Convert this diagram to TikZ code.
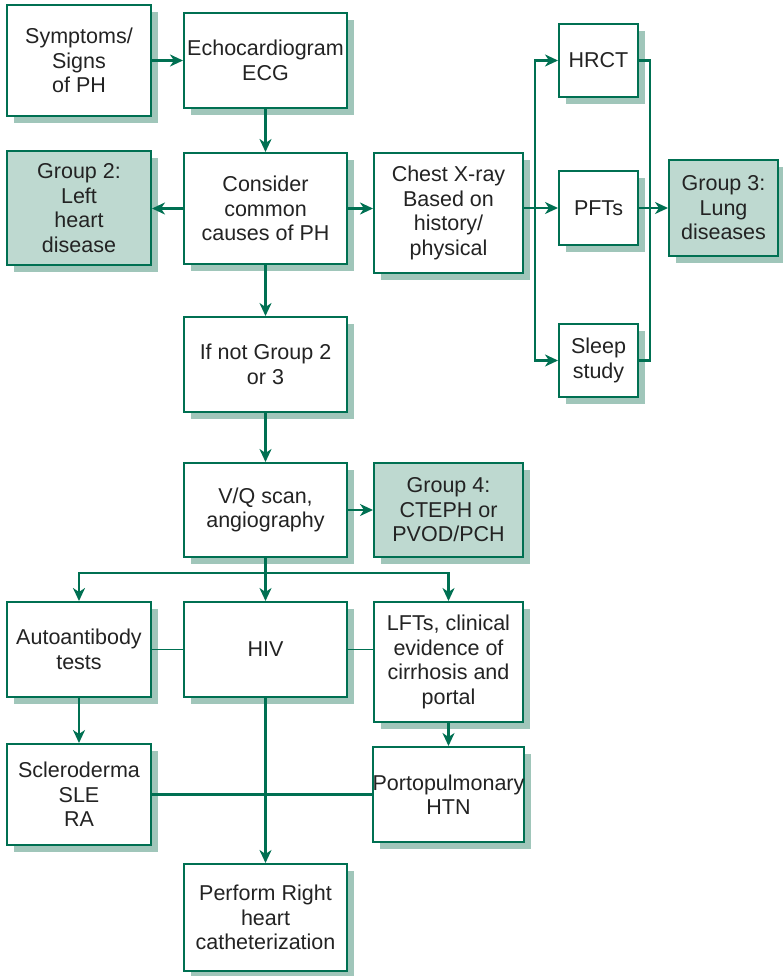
\documentclass[tikz,border=0pt]{standalone}
\usepackage{fontspec}
\setmainfont{Liberation Sans}
\usetikzlibrary{arrows.meta,shadows}
\definecolor{grn}{RGB}{0,112,82}
\definecolor{shc}{RGB}{160,198,186}
\definecolor{gfill}{RGB}{190,217,208}
\definecolor{txt}{RGB}{35,35,35}
\tikzset{
  box/.style={draw=grn, line width=2pt, fill=white, align=center, inner sep=0pt,
    text=txt, font=\fontsize{21.5}{24.5}\selectfont,
    drop shadow={shadow xshift=7pt, shadow yshift=-7pt, fill=shc, opacity=1}},
  grp/.style={box, fill=gfill},
  arr/.style={draw=grn, line width=2.4pt, -{Stealth[length=13pt,width=12pt,inset=4pt]}},
  ln/.style={draw=grn, line width=2.4pt},
  thin/.style={draw=grn, line width=1.3pt}
}
\begin{document}
\begin{tikzpicture}[x=1pt,y=-1pt]
\useasboundingbox (0,0) rectangle (783,976);
\node[box, minimum width=144, minimum height=111] (sym) at (79,60.5) {Symptoms/\\Signs\\of PH};
\node[box, minimum width=163, minimum height=95] (echo) at (265.5,60.5) {Echocardiogram\\ECG};
\node[grp, minimum width=144, minimum height=114] (g2) at (79,208) {Group 2:\\Left\\heart\\disease};
\node[box, minimum width=163, minimum height=111] (cons) at (265.5,208.5) {Consider\\common\\causes of PH};
\node[box, minimum width=149, minimum height=120] (chest) at (448.5,213) {Chest X-ray\\Based on\\history/\\physical};
\node[box, minimum width=79, minimum height=73] (hrct) at (598.5,60.5) {HRCT};
\node[box, minimum width=79, minimum height=74] (pft) at (598.5,208) {PFTs};
\node[box, minimum width=79, minimum height=73] (sleep) at (598.5,360.5) {Sleep\\study};
\node[grp, minimum width=109, minimum height=96] (g3) at (723.5,208) {Group 3:\\Lung\\diseases};
\node[box, minimum width=163, minimum height=95] (ifnot) at (265.5,364.5) {If not Group 2\\or 3};
\node[box, minimum width=163, minimum height=94] (vq) at (265.5,510) {V/Q scan,\\angiography};
\node[grp, minimum width=149, minimum height=94] (g4) at (448.5,510) {Group 4:\\CTEPH or\\PVOD/PCH};
\node[box, minimum width=144, minimum height=95] (auto) at (79,649.5) {Autoantibody\\tests};
\node[box, minimum width=163, minimum height=95] (hiv) at (265.5,649.5) {HIV};
\node[box, minimum width=149, minimum height=120] (lft) at (448.5,662) {LFTs, clinical\\evidence of\\cirrhosis and\\portal};
\node[box, minimum width=144, minimum height=101] (scl) at (79,794.5) {Scleroderma\\SLE\\RA};
\node[box, minimum width=149, minimum height=95] (porto) at (448.5,794.5) {Portopulmonary\\HTN};
\node[box, minimum width=163, minimum height=107] (perf) at (265.5,917.5) {Perform Right\\heart\\catheterization};

\coordinate (bl) at (535,0);
\coordinate (br) at (650,0);
\coordinate (by) at (0,573);

\draw[arr] (sym.east) -- (sym.east -| echo.west);
\draw[arr] (echo.south) -- (cons.north);
\draw[arr] (cons.west) -- (cons.west -| g2.east);
\draw[arr] (cons.east) -- (cons.east -| chest.west);
\draw[arr] (pft.west -| chest.east) -- (pft.west);
\draw[arr] (bl |- pft.west) |- (hrct.west);
\draw[arr] (bl |- pft.west) |- (sleep.west);
\draw[ln] (hrct.east) -| (br |- sleep.east) -- (sleep.east);
\draw[arr] (pft.east) -- (g3.west);
\draw[arr] (cons.south) -- (ifnot.north);
\draw[arr] (ifnot.south) -- (vq.north);
\draw[arr] (vq.east) -- (g4.west);
\draw[arr] (vq.south) -- (hiv.north);
\draw[arr] (by -| hiv.north) -| (auto.north);
\draw[arr] (by -| hiv.north) -| (lft.north);
\draw[thin] (auto.east) -- (hiv.west);
\draw[thin] (hiv.east) -- (hiv.east -| lft.west);
\draw[arr] (auto.south) -- (scl.north);
\draw[arr] (lft.south) -- (porto.north);
\draw[ln] (scl.east) -- (porto.west);
\draw[arr] (hiv.south) -- (perf.north);
\end{tikzpicture}
\end{document}
